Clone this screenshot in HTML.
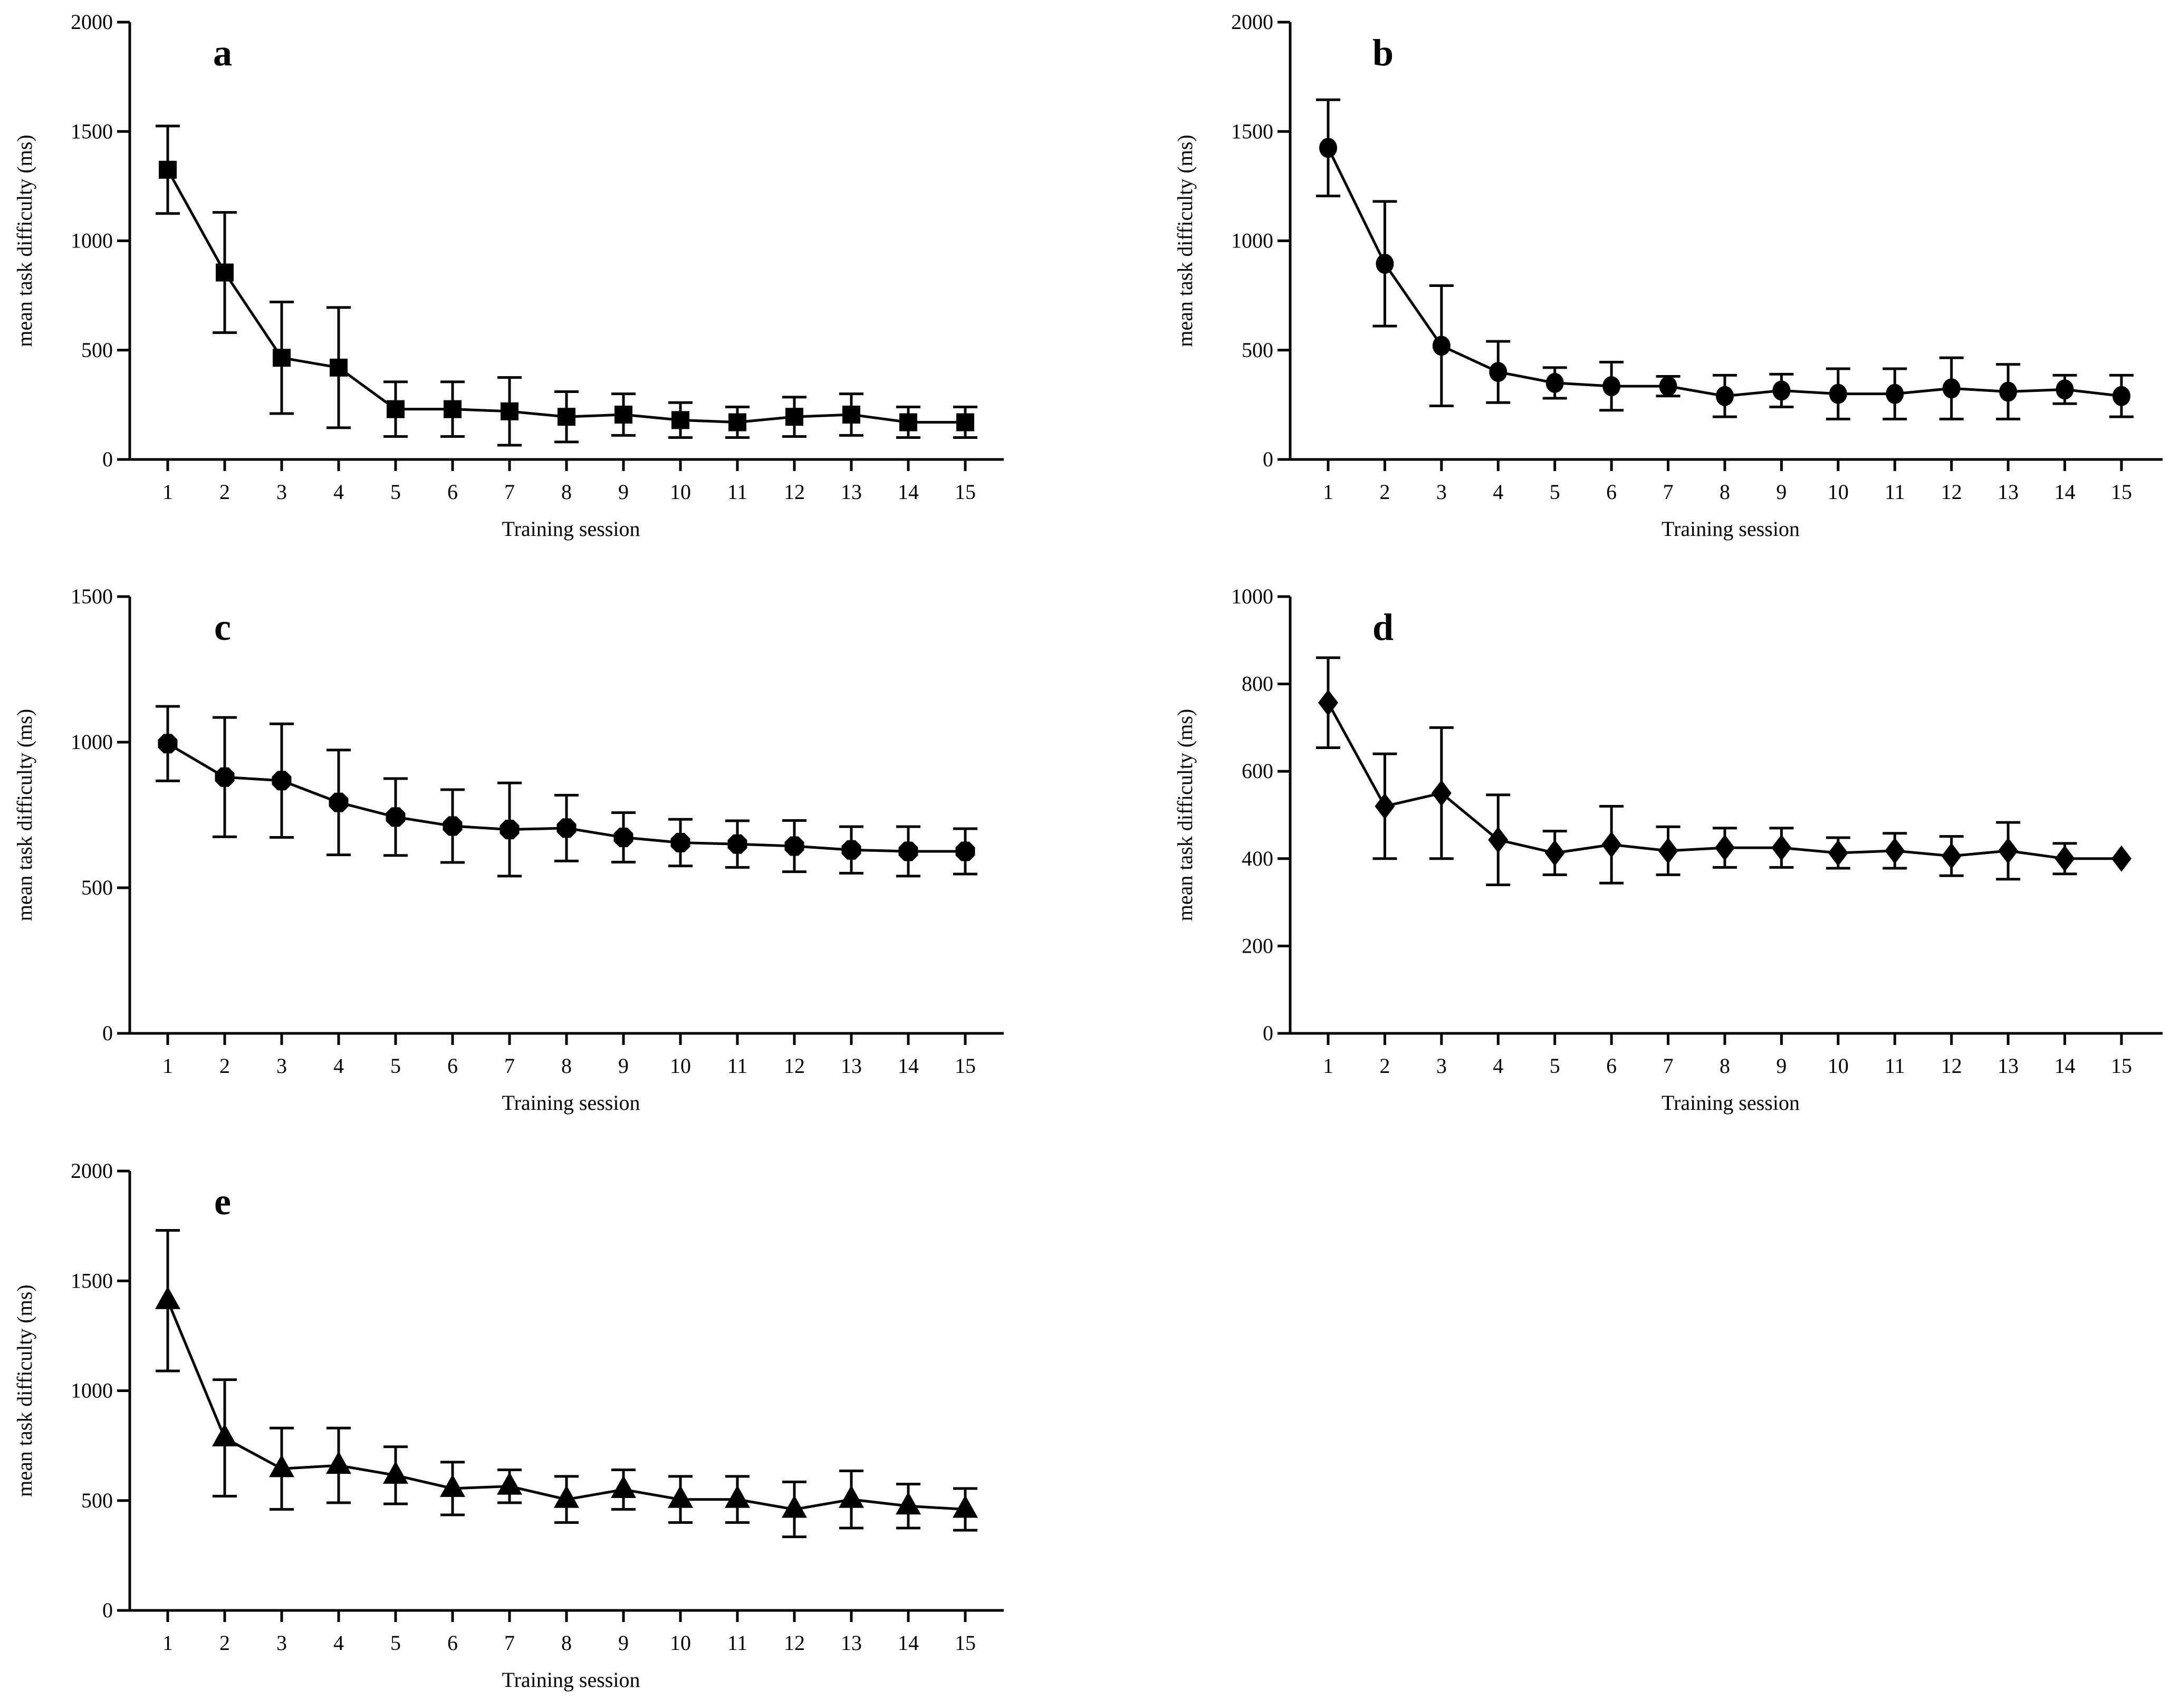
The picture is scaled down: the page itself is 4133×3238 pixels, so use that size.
<!DOCTYPE html>
<html><head><meta charset="utf-8"><style>
html,body{margin:0;padding:0;background:#fff;}
svg{display:block;}
text{font-family:"Liberation Serif","DejaVu Serif",serif;fill:#000;}
</style></head>
<body>
<svg id="fig" width="4133" height="3238" viewBox="0 0 4133 3238" xmlns="http://www.w3.org/2000/svg"></svg>
<script>
const sessions = [1,2,3,4,5,6,7,8,9,10,11,12,13,14,15];
const meanA = [1325,855,465,420,230,230,220,195,205,180,170,195,205,170,170];
const sdA   = [200,275,255,275,125,125,155,115,95,80,70,90,95,70,70];
const meanB = [1425,895,520,400,350,335,335,290,315,300,300,325,310,320,290];
const sdB   = [220,285,275,140,70,110,45,95,75,115,115,140,125,65,95];
const meanC = [995,880,868,793,743,712,700,705,673,655,650,643,630,625,625];
const sdC   = [128,205,195,180,132,125,160,113,85,80,80,88,80,85,78];
const meanD = [757,520,550,443,413,432,418,425,425,413,418,406,418,400,400];
const sdD   = [103,120,150,103,50,88,55,45,45,35,40,45,65,35,0];
const meanE = [1410,785,645,660,615,555,565,505,550,505,505,460,505,475,460];
const sdE   = [320,265,185,170,130,120,75,105,90,105,105,125,130,100,95];
const ticksA = [0,500,1000,1500,2000];
const ticksC = [0,500,1000,1500];
const ticksD = [0,200,400,600,800,1000];

const NS = "http://www.w3.org/2000/svg";
const fig = document.getElementById('fig');
function mk(tag, attrs, parent){
  const e = document.createElementNS(NS, tag);
  for (const k in attrs) e.setAttribute(k, attrs[k]);
  (parent||fig).appendChild(e);
  return e;
}

const panels = [
  {id:'a', ax:246, xend:1903, t1:318, t15:1830, ytop:42, y0:871, ymax:2000, ticks:ticksA, mean:meanA, sd:sdA, marker:'square'},
  {id:'b', ax:2446, xend:4100, t1:2518, t15:4022, ytop:42, y0:871, ymax:2000, ticks:ticksA, mean:meanB, sd:sdB, marker:'circle'},
  {id:'c', ax:246, xend:1903, t1:318, t15:1830, ytop:1131, y0:1959, ymax:1500, ticks:ticksC, mean:meanC, sd:sdC, marker:'octagon'},
  {id:'d', ax:2446, xend:4100, t1:2518, t15:4022, ytop:1131, y0:1959, ymax:1000, ticks:ticksD, mean:meanD, sd:sdD, marker:'diamond'},
  {id:'e', ax:246, xend:1903, t1:318, t15:1830, ytop:2220, y0:3053, ymax:2000, ticks:ticksA, mean:meanE, sd:sdE, marker:'triangle'}
];

panels.forEach(p => {
  const g = mk('g', {});
  
  
  const xs = s => p.t1 + (s - 1) * (p.t15 - p.t1) / 14;
  const ys = v => p.y0 - v / p.ymax * (p.y0 - p.ytop);

  // axes
  const yAxis = mk('line', {x1:p.ax, y1:p.ytop, x2:p.ax, y2:p.y0+2, stroke:'#000','stroke-width':5}, g);
  
  
  const xAxis = mk('line', {x1:p.ax-24, y1:p.y0, x2:p.xend, y2:p.y0, stroke:'#000','stroke-width':5}, g);
  
  

  p.ticks.forEach(t => {
    mk('line', {x1:p.ax-24, y1:ys(t), x2:p.ax, y2:ys(t), stroke:'#000','stroke-width':5}, g);
    const tl = mk('text', {x:p.ax-32, y:ys(t)+13, 'font-size':40, 'text-anchor':'end'}, g);
    tl.textContent = t;
    
    
  });
  sessions.forEach(s => {
    mk('line', {x1:xs(s), y1:p.y0, x2:xs(s), y2:p.y0+22, stroke:'#000','stroke-width':5}, g);
    const tl = mk('text', {x:xs(s), y:p.y0+75, 'font-size':40, 'text-anchor':'middle'}, g);
    tl.textContent = s;
    
    
  });

  const xt = mk('text', {x:(p.ax+p.xend)/2+8, y:p.y0+145, 'font-size':40, 'text-anchor':'middle'}, g);
  xt.textContent = 'Training session';
  
  

  const cy = (p.ytop + p.y0) / 2;
  const yt = mk('text', {x:p.ax-186, y:cy, 'font-size':40, 'text-anchor':'middle', transform:`rotate(-90 ${p.ax-186} ${cy})`}, g);
  yt.textContent = 'mean task difficulty (ms)';
  
  

  const lt = mk('text', {x:p.ax+176, y:p.ytop+82, 'font-size':72, 'font-weight':'bold', 'text-anchor':'middle'}, g);
  lt.textContent = p.id;
  
  

  // error bars
  sessions.forEach((s, i) => {
    const x = xs(s), m = p.mean[i], d = p.sd[i];
    if (d <= 0) return;
    const eg = mk('g', {stroke:'#000','stroke-width':5}, g);
    
    
    mk('line', {x1:x, y1:ys(m+d), x2:x, y2:ys(m-d)}, eg);
    mk('line', {x1:x-23, y1:ys(m+d), x2:x+23, y2:ys(m+d)}, eg);
    mk('line', {x1:x-23, y1:ys(m-d), x2:x+23, y2:ys(m-d)}, eg);
  });

  // line
  const pts = sessions.map((s, i) => xs(s) + ',' + ys(p.mean[i])).join(' ');
  const pl = mk('polyline', {points:pts, fill:'none', stroke:'#000', 'stroke-width':5}, g);
  
  

  // markers
  sessions.forEach((s, i) => {
    const x = xs(s), y = ys(p.mean[i]);
    let el;
    if (p.marker === 'square') el = mk('rect', {x:x-17, y:y-17, width:34, height:34}, g);
    else if (p.marker === 'circle') el = mk('ellipse', {cx:x, cy:y, rx:17, ry:19}, g);
    else if (p.marker === 'octagon') {
      const r = 20, a = [];
      for (let k = 0; k < 8; k++) { const t = Math.PI/8 + k*Math.PI/4; a.push((x + r*Math.cos(t)) + ',' + (y + r*Math.sin(t))); }
      el = mk('polygon', {points:a.join(' ')}, g);
    }
    else if (p.marker === 'diamond') el = mk('polygon', {points:`${x},${y-25} ${x+19},${y} ${x},${y+25} ${x-19},${y}`}, g);
    else el = mk('polygon', {points:`${x},${y-27} ${x+24},${y+16} ${x-24},${y+16}`}, g);
    el.setAttribute('fill', '#000');
    
    
  });
});
</script>
</body></html>
